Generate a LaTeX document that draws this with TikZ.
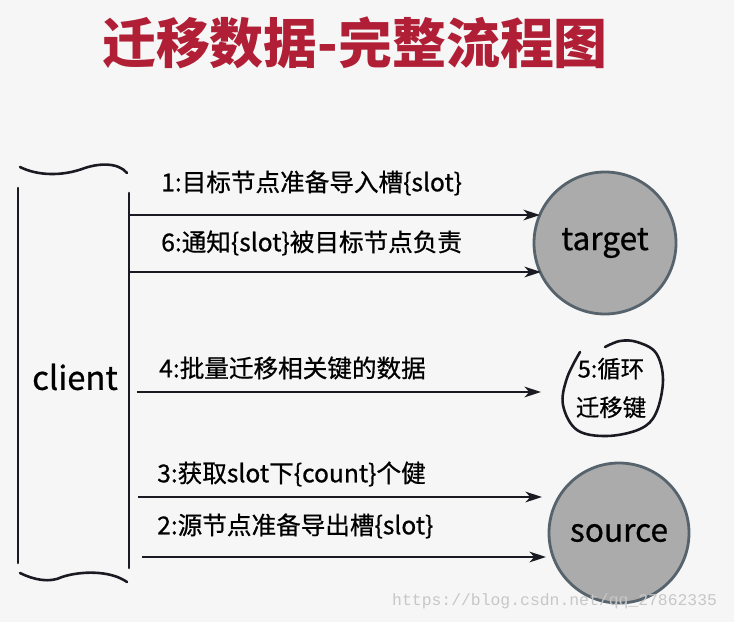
\documentclass[tikz,border=0pt]{standalone}
\usepackage{fontspec}
\setmainfont{Noto Sans CJK SC}
\newfontfamily\lblfont[BoldFont={Noto Sans CJK SC}, BoldFeatures={FakeBold=0.7}]{Noto Sans CJK SC}
\newfontfamily\wmfont{Liberation Mono}
\usetikzlibrary{arrows.meta,positioning}
\definecolor{bgcol}{HTML}{F6F6F6}
\definecolor{titlered}{HTML}{B01F35}
\definecolor{nodefill}{HTML}{ABABAB}
\definecolor{nodeedge}{HTML}{56636C}
\definecolor{inkcol}{HTML}{1A1A22}
\tikzset{
  msg/.style={draw=inkcol, line width=2.2pt, -{Stealth[length=14pt, width=9pt, inset=4pt]}},
  msglabel/.style={anchor=west, inner sep=0pt, font=\lblfont\bfseries\fontsize{21}{24}\selectfont},
  server/.style={circle, draw=nodeedge, fill=nodefill, line width=2.4pt, minimum size=#1, inner sep=0pt, font=\lblfont\bfseries\fontsize{27}{32}\selectfont},
  hand/.style={draw=inkcol, line width=2.2pt, line cap=round}
}
\begin{document}
\begin{tikzpicture}[x=0.03cm, y=-0.03cm]
\fill[bgcol] (0,0) rectangle (734,622);
\useasboundingbox (0,0) rectangle (734,622);
\node (title) [text=titlered, font=\fontsize{46}{50}\bfseries\selectfont] at (355,43) {迁移数据-完整流程图};
\node (client) [font=\lblfont\bfseries\fontsize{28}{32}\selectfont] at (75,377) {client};
\draw[hand] (18,188) -- (18,563);
\draw[hand] (129,193) -- (129,568);
\draw[hand] (20,167) .. controls (38,176) and (62,176) .. (82,169) .. controls (98,163) and (118,162) .. (127,173);
\draw[hand] (20,573) .. controls (34,580) and (50,583) .. (62,577) .. controls (80,571) and (110,570) .. (127,582);
\node (target) [server=142*0.03cm] at (605,243) {target};
\node (source) [server=140*0.03cm] at (619,533) {source};
\node (loop) [align=center, inner sep=0pt, font=\lblfont\bfseries\fontsize{20}{33}\selectfont] at (611,388) {5:循环\\迁移键};
\draw[hand] plot[smooth, tension=0.6] coordinates {(580,352) (567,378) (563,405) (577,430) (607,436) (640,429) (656,413) (663,380) (656,353) (637,342) (620,341) (605,347)};
\coordinate (s1) at (129,215);
\coordinate (s6) at (129,272);
\coordinate (s4) at (137,392);
\coordinate (s3) at (138,497);
\coordinate (s2) at (142,557);
\coordinate (e1) at (540,215);
\coordinate (e6) at (541,272);
\coordinate (e4) at (541,392);
\coordinate (e3) at (542,497);
\coordinate (e2) at (546,557);
\draw[msg] (s1) -- (e1);
\draw[msg] (s6) -- (e6);
\draw[msg] (s4) -- (e4);
\draw[msg] (s3) -- (e3);
\draw[msg] (s2) -- (e2);
\node (l1) [msglabel] at (161,183) {1:目标节点准备导入槽\{slot\}};
\node (l6) [msglabel] at (161,243) {6:通知\{slot\}被目标节点负责};
\node (l4) [msglabel] at (159,368) {4:批量迁移相关键的数据};
\node (l3) [msglabel] at (157,474) {3:获取slot下\{count\}个健};
\node (l2) [msglabel] at (157,526) {2:源节点准备导出槽\{slot\}};
\node (mark) [anchor=west, inner sep=0pt, text=black!22, font=\wmfont\fontsize{14}{16}\selectfont] at (392,601) {https://blog.csdn.net/qq\_27862335};
\end{tikzpicture}
\end{document}
